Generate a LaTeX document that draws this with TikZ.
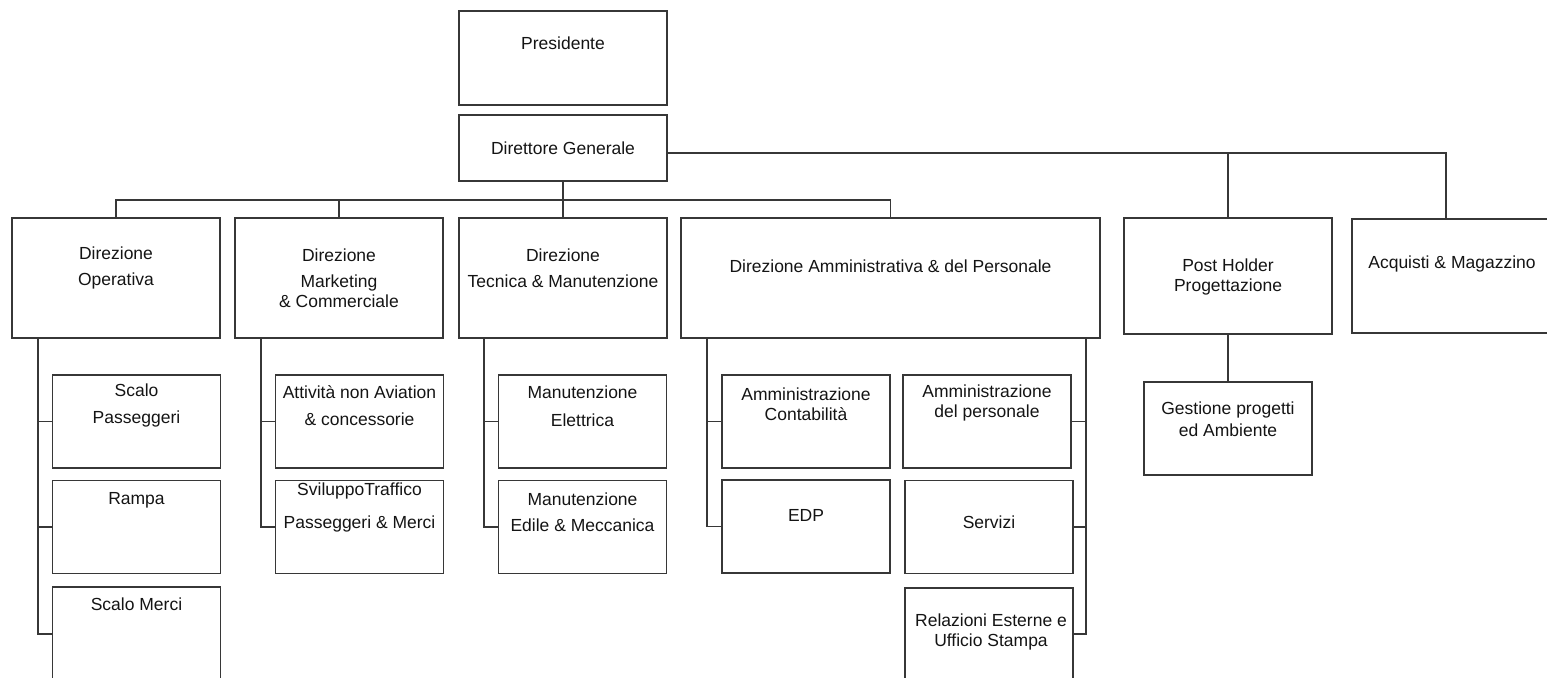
\documentclass[tikz,border=0pt]{standalone}
\usepackage{fontspec}
\setmainfont{Liberation Sans}
\definecolor{linegray}{RGB}{55,55,55}
\definecolor{textgray}{RGB}{20,20,20}
\tikzset{
  box/.style={draw=linegray, line width=0.85pt, rectangle, inner sep=0pt,
    minimum width=104pt, minimum height=60pt},
  subbox/.style={box, minimum width=84pt, minimum height=46.5pt},
  txt/.style={align=center, inner sep=0pt, text=textgray,
    font=\fontsize{8.75}{10}\selectfont},
  link/.style={draw=linegray, line width=0.85pt}
}
\begin{document}
\begin{tikzpicture}[x=0.5pt, y=-0.5pt]
\path[use as bounding box] (0,0) rectangle (1547,677);
\clip (0,0) rectangle (1547,677);

% vertice
\node[box, minimum height=47pt] (pres) at (563,58) {};
\node[box, minimum height=33pt] (dg) at (563,148) {};
\node[txt] (pres-t) at (563,43) {Presidente};
\node[txt] (dg-t) at (563,148) {Direttore Generale};

% direzioni
\node[box] (op) at (116,278) {};
\node[box] (mk) at (339,278) {};
\node[box] (tm) at (563,278) {};
\node[box, minimum width=209.5pt] (am) at (890.5,278) {};
\node[box, minimum height=58pt] (ph) at (1228,276) {};
\node[box, minimum height=57pt] (acq) at (1456,276) {};
\node[txt] (op-t) at (116,268) {Direzione\\[3pt]Operativa};
\node[txt] (mk-t) at (339,278) {Direzione\\[3pt]Marketing\\\& Commerciale};
\node[txt] (tm-t) at (563,268) {Direzione\\[3pt]Tecnica \& Manutenzione};
\node[txt] (am-t) at (890.5,266) {Direzione Amministrativa \& del Personale};
\node[txt] (ph-t) at (1228,276.5) {Post Holder\\Progettazione};
\node[txt] (acq-t) at (1452,264) {Acquisti \& Magazzino};

\coordinate (bus) at (563,200);
\coordinate (dgr) at ([yshift=-2.5pt]dg.east);
\path[link] (dg.south) -- (tm.north);
\path[link] (op.north) |- (bus) -| (am.north);
\path[link] (mk.north) -- (mk.north |- bus);
\path[link] (dgr) -| ([xshift=-5pt]acq.north);
\path[link] (ph.north) -- (ph.north |- dgr);

% operativa
\node[subbox] (sp) at (136.5,421.5) {};
\node[subbox] (ra) at (136.5,527) {};
\node[subbox, minimum height=47pt] (sm) at (136.5,634) {};
\node[txt] (sp-t) at (136.5,405.5) {Scalo\\[3.5pt]Passeggeri};
\node[txt] (ra-t) at (136.5,500) {Rampa};
\node[txt] (sm-t) at (136.5,604) {Scalo Merci};
\coordinate (opv) at (38,338);
\path[link] (opv) |- (sm.west);
\path[link] (sp.west) -- (sp.west -| opv);
\path[link] (ra.west) -- (ra.west -| opv);

% marketing
\node[subbox] (anv) at (359.5,421.5) {};
\node[subbox] (svt) at (359.5,527) {};
\node[txt] (anv-t) at (359.5,405.5) {Attività non Aviation\\[3.5pt]\& concessorie};
\node[txt] (svt-t) at (359.5,507.5) {SviluppoTraffico\\[6.5pt]Passeggeri \& Merci};
\coordinate (mkv) at (261,338);
\path[link] (mkv) |- (svt.west);
\path[link] (anv.west) -- (anv.west -| mkv);

% tecnica
\node[subbox] (me) at (582.5,421.5) {};
\node[subbox] (mem) at (582.5,527) {};
\node[txt] (me-t) at (582.5,406) {Manutenzione\\[4pt]Elettrica};
\node[txt] (mem-t) at (582.5,512) {Manutenzione\\[3pt]Edile \& Meccanica};
\coordinate (tmv) at (484,338);
\path[link] (tmv) |- (mem.west);
\path[link] (me.west) -- (me.west -| tmv);

% amministrativa
\node[subbox] (ac) at (806,421.5) {};
\node[subbox] (ap) at (987,421.5) {};
\node[subbox] (edp) at (806,526.5) {};
\node[subbox] (srv) at (989,527) {};
\node[subbox, minimum height=46pt] (rel) at (989,634) {};
\node[txt] (ac-t) at (806,404) {Amministrazione\\Contabilità};
\node[txt] (ap-t) at (987,402.5) {Amministrazione\\del personale};
\node[txt] (edp-t) at (806,515) {EDP};
\node[txt] (srv-t) at (989,522) {Servizi};
\node[txt] (rel-t) at (991,632) {Relazioni Esterne e\\Ufficio Stampa};
\coordinate (aml) at (707,338);
\coordinate (amr) at (1086,338);
\path[link] (aml) |- (edp.west);
\path[link] (ac.west) -- (ac.west -| aml);
\path[link] (amr) |- (rel.east);
\path[link] (ap.east) -- (ap.east -| amr);
\path[link] (srv.east) -- (srv.east -| amr);

% progettazione
\node[subbox] (gest) at (1228,428.5) {};
\node[txt] (gest-t) at (1228,419) {Gestione progetti\\[1pt]ed Ambiente};
\path[link] (ph.south) -- (gest.north);
\end{tikzpicture}
\end{document}
